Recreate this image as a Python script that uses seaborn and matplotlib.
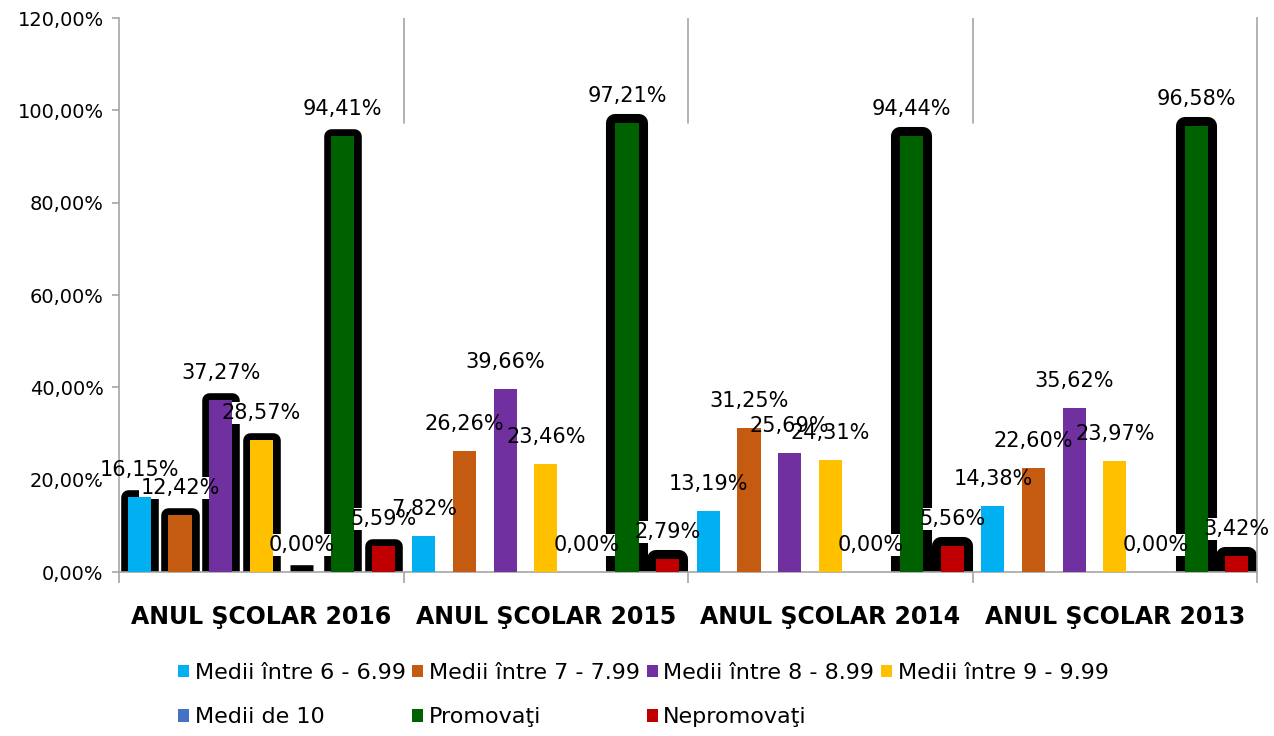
### grouped bar chart - school year results
import numpy as np
import matplotlib.pyplot as plt
import matplotlib.patches as mpatches
from matplotlib.ticker import FuncFormatter, FixedLocator
import seaborn as sns
import pandas as pd

### Data ###
years = ["ANUL ŞCOLAR 2016", "ANUL ŞCOLAR 2015", "ANUL ŞCOLAR 2014", "ANUL ŞCOLAR 2013"]
series = ["Medii între 6 - 6.99", "Medii între 7 - 7.99", "Medii între 8 - 8.99",
          "Medii între 9 - 9.99", "Medii de 10", "Promovaţi", "Nepromovaţi"]
medii_6 = [16.15, 7.82, 13.19, 14.38]
medii_7 = [12.42, 26.26, 31.25, 22.60]
medii_8 = [37.27, 39.66, 25.69, 35.62]
medii_9 = [28.57, 23.46, 24.31, 23.97]
medii_10 = [0.00, 0.00, 0.00, 0.00]
promovati = [94.41, 97.21, 94.44, 96.58]
nepromovati = [5.59, 2.79, 5.56, 3.42]
colors = ["#00B0F0", "#C55A11", "#7030A0", "#FFC000", "#4472C4", "#006100", "#C00000"]

values = [medii_6, medii_7, medii_8, medii_9, medii_10, promovati, nepromovati]
rows = []
for s, vals in zip(series, values):
    for y, v in zip(years, vals):
        rows.append({"an": y, "serie": s, "val": v})
df = pd.DataFrame(rows)

### Plot
sns.set_theme(style="white")
plt.rcParams['font.family'] = ['DejaVu Sans']
plt.rcParams['text.color'] = 'black'
grey = "#A6A6A6"
fs_tick = 14
fs_lab = 15
fs_leg = 16

fig = plt.figure(figsize=(12.74, 7.36), dpi=100)
ax = fig.add_axes([0.0934, 0.2228, 0.8933, 0.7527])
sns.barplot(data=df, x="an", y="val", hue="serie", order=years, hue_order=series,
            palette=colors, width=1.0, gap=0.43, saturation=1, legend=False, ax=ax)

def fmt(v):
    return "{:.2f}%".format(v).replace(".", ",")

for i, cont in enumerate(ax.containers):
    for j, bar in enumerate(cont):
        bar.set_linewidth(0)
        bar.set_zorder(3)
        # thick black rounded outline behind the fill
        if j == 0 or series[i] in ("Promovaţi", "Nepromovaţi"):
            lw = 10.5 if j == 0 else 13
            ol = mpatches.Rectangle(bar.get_xy(), bar.get_width(), bar.get_height(),
                                    facecolor="black", edgecolor="black", linewidth=lw,
                                    joinstyle="round", zorder=1)
            ax.add_patch(ol)
        cx = bar.get_x() + bar.get_width() / 2
        h = bar.get_height()
        # white label box under the fill, text on top
        ax.annotate(fmt(h), (cx, h), xytext=(0, 27), textcoords="offset pixels",
                    ha="center", va="center", fontsize=fs_lab, color="white", zorder=2,
                    bbox=dict(boxstyle="square,pad=0.05", fc="white", ec="none"))
        ax.annotate(fmt(h), (cx, h), xytext=(0, 27), textcoords="offset pixels",
                    ha="center", va="center", fontsize=fs_lab, color="black", zorder=4)

ax.set_xlim(-0.5, 3.5)
ax.set_ylim(0, 120)
ax.set_yticks(np.arange(0, 121, 20))
ax.yaxis.set_major_formatter(FuncFormatter(lambda v, p: fmt(v)))
ax.set_xlabel("")
ax.set_ylabel("")

# category separators
for xb in [0.5, 1.5, 2.5]:
    ax.axvline(xb, ymin=0.81, ymax=1.0, color=grey, lw=1.2, zorder=0)
ax.xaxis.set_minor_locator(FixedLocator([-0.5, 0.5, 1.5, 2.5, 3.5]))
ax.tick_params(axis="x", which="minor", length=8, width=1.2, color=grey, bottom=True)
ax.tick_params(axis="x", which="major", length=0, pad=24, labelcolor="black")
ax.tick_params(axis="y", length=5, width=1.2, color=grey, left=True, labelsize=fs_tick,
               pad=6, labelcolor="black")
for lab in ax.get_xticklabels():
    lab.set_fontsize(17)
    lab.set_fontweight("bold")

for side in ["left", "bottom", "right"]:
    ax.spines[side].set_visible(True)
    ax.spines[side].set_color(grey)
    ax.spines[side].set_linewidth(1.2)
ax.spines["top"].set_visible(False)

# legend laid out row by row (matplotlib fills columns first)
order = [0, 4, 1, 5, 2, 6, 3]
handles = [mpatches.Patch(facecolor=colors[k], edgecolor="none") for k in order]
labels = [series[k] for k in order]
fig.legend(handles, labels, loc="center", bbox_to_anchor=(0.505, 0.0557), ncol=4,
           frameon=False, fontsize=fs_leg, handlelength=0.5, handleheight=0.5,
           handletextpad=0.25, columnspacing=0.3, labelspacing=1.1)

plt.savefig("out.png", dpi=100)
